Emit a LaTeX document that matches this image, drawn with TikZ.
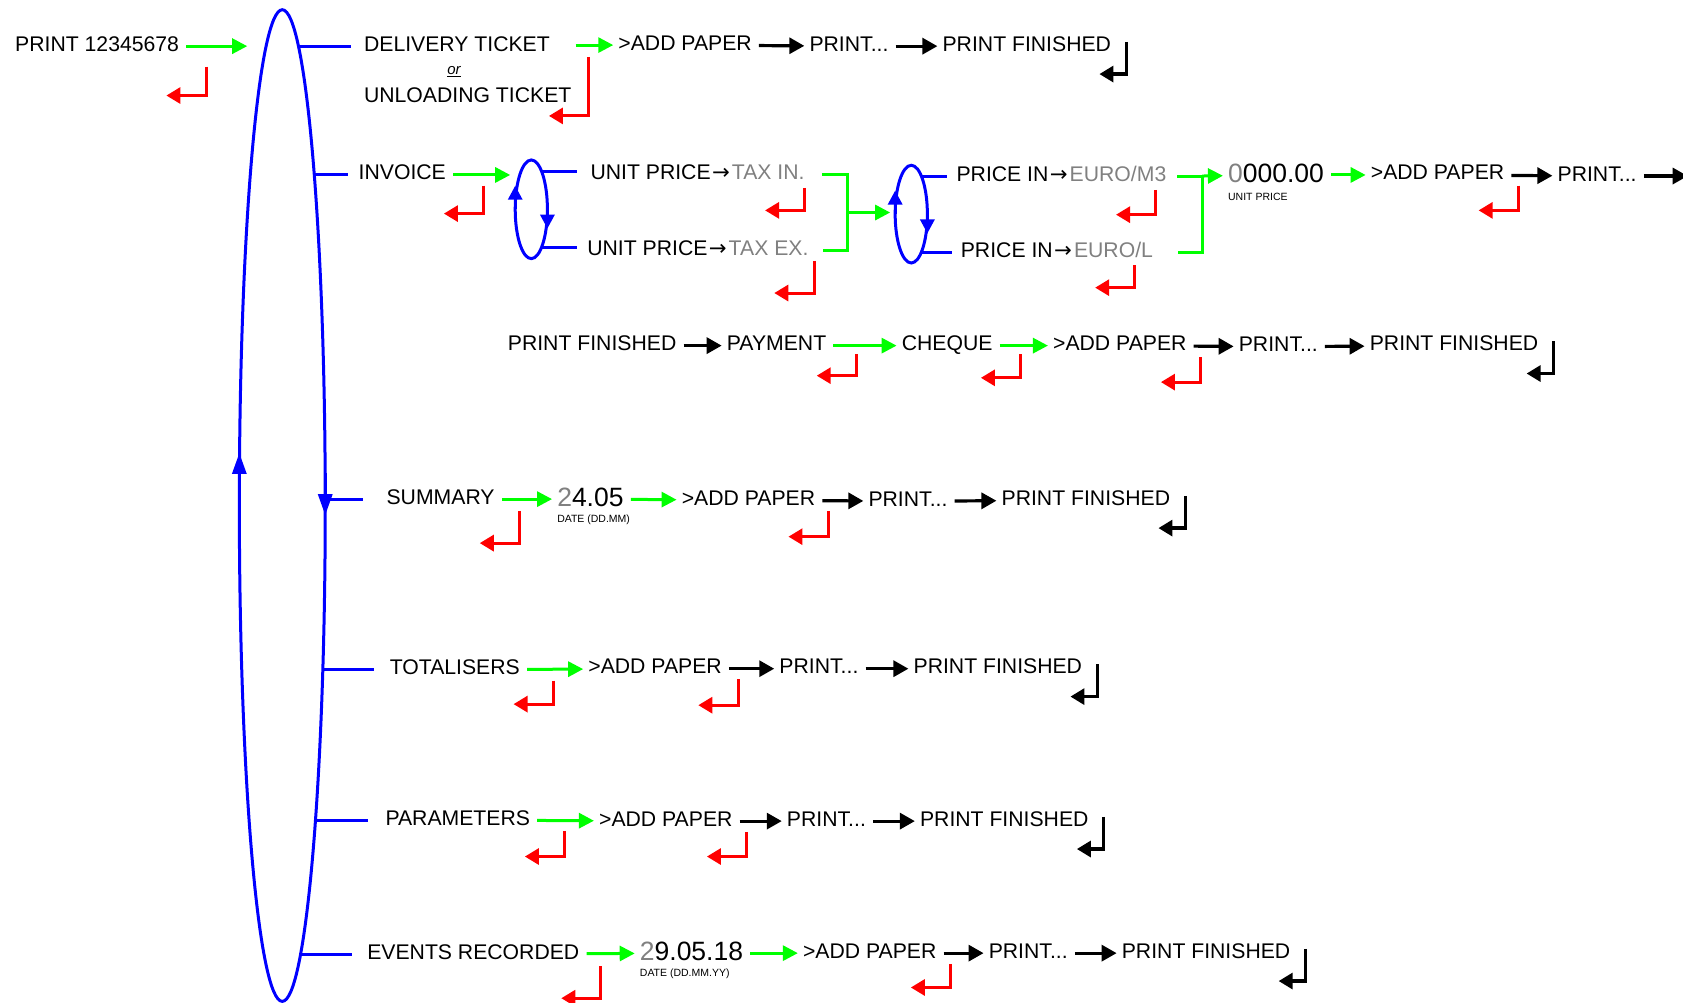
\documentclass[tikz,border=0pt]{standalone}
\usepackage{fontspec}
\setmainfont{Liberation Sans}
\newfontfamily\arrowfont{DejaVu Sans}
\usetikzlibrary{arrows.meta,calc,shapes.geometric}

\newcommand{\esc}[3]{\draw[escape] ($(#1)+(#2)$) |- ++(-37,#3);}
\newcommand{\done}[1]{\draw[finish] ($(#1.east)+(14,-4)$) |- ++(-25,30);}
\newcommand{\into}{\kern1.5pt{\arrowfont →}\kern2pt}

\begin{document}
\begin{tikzpicture}[x=1.0733pt, y=-1.0733pt,
    key/.style={anchor=west, inner sep=0pt, text height=14pt, text depth=4pt,
      font=\fontsize{21.2}{25}\selectfont},
    num/.style={anchor=west, inner sep=0pt, text height=19pt, text depth=4pt,
      font=\fontsize{26.5}{30}\selectfont},
    hint/.style={anchor=west, inner sep=0pt, font=\fontsize{10.5}{12}\selectfont},
    ring/.style={draw=blue, line width=3pt, outer sep=0pt},
    ringtip/.style={ring, -{Triangle[length=#1,width=14pt]}},
    confirm/.style={draw=green, line width=3pt, shorten <=7pt, shorten >=5pt,
      -{Triangle[length=15pt,width=15pt]}},
    gline/.style={draw=green, line width=3pt},
    proceed/.style={draw=black, line width=3.2pt, shorten <=7pt, shorten >=5pt,
      -{Triangle[length=15pt,width=16pt]}},
    escape/.style={draw=red, line width=3pt, -{Triangle[length=14pt,width=16pt]}},
    finish/.style={draw=black, line width=3.2pt, -{Triangle[length=14pt,width=16pt]}}
  ]
  \useasboundingbox (0,0) rectangle (1568,934);
  \clip (0,0) rectangle (1568,934);

  % main menu loop
  \node[ring, ellipse, minimum width=85.9pt, minimum height=991.6pt] (menu) at (263,471) {};
  \draw[ringtip=21pt] (menu.west) -- ++(0,-49);
  \draw[ringtip=21pt] ($(menu.east)+(0,-30)$) -- ($(menu.east)+(0,9)$);
  \coordinate (b1) at (278,43);
  \coordinate (b2) at (293,163);
  \coordinate (b3) at (303,465);
  \coordinate (b4) at (301,624);
  \coordinate (b5) at (294,764);
  \coordinate (b6) at (280,889);

  % row 1
  \node[key] (prt) at (14,43) {PRINT 12345678};
  \coordinate (menuin) at (235,43);
  \node[key] (dlv) at (339,43) {DELIVERY TICKET};
  \node[inner sep=0pt, font=\fontsize{15}{17}\selectfont\itshape] (ortxt) at (423,67) {\underline{or}};
  \node[key] (unl) at (339,91) {UNLOADING TICKET};
  \node[key] (add1) at (576,42) {>ADD PAPER};
  \node[key] (run1) at (754,43) {PRINT...};
  \node[key] (fin1) at (878,43) {PRINT FINISHED};
  \draw[confirm] (prt) -- (menuin);
  \draw[ring, shorten >=13pt] (b1) -- (dlv.west);
  \draw[confirm, shorten <=4pt] (unl.east |- add1.west) -- (add1.west);
  \draw[proceed] (add1) -- (run1);
  \draw[proceed] (run1) -- (fin1);
  \esc{prt.east}{25,19}{27}
  \esc{dlv.east}{36,10}{55}
  \done{fin1}

  % row 2
  \node[key] (inv) at (334,163) {INVOICE};
  \node[ring, ellipse, minimum width=32.2pt, minimum height=98.7pt] (sw1) at (495,195) {};
  \draw[ringtip=14pt] (sw1.west) -- ++(0,-22);
  \draw[ringtip=14pt] (sw1.east) -- ++(0,18);
  \node[key] (upin) at (550,163) {UNIT PRICE\into\textcolor{black!50}{TAX IN.}};
  \node[key] (upex) at (547,233) {UNIT PRICE\into\textcolor{black!50}{TAX EX.}};
  \coordinate (j1) at (790,198);
  \node[ring, ellipse, minimum width=32.2pt, minimum height=97.7pt] (sw2) at (849,199.5) {};
  \draw[ringtip=14pt] (sw2.west) -- ++(0,-22);
  \draw[ringtip=14pt] (sw2.east) -- ++(0,18);
  \node[key] (pm3) at (891,164) {PRICE IN\into\textcolor{black!50}{EURO/M3}};
  \node[key] (pl) at (895,235) {PRICE IN\into\textcolor{black!50}{EURO/L}};
  \coordinate (j2) at (1120,164);
  \node[num] (uprice) at (1144,163) {\textcolor{black!50}{0}000.00};
  \node[hint] (uplbl) at (1144,183) {UNIT PRICE};
  \node[key] (add2) at (1277,163) {>ADD PAPER};
  \node[key] (run2) at (1451,164) {PRINT...};
  \coordinate (more) at (1577,164);
  \draw[ring, shorten >=11pt] (b2) -- (inv.west);
  \draw[confirm] (inv) -- (inv -| sw1.west);
  \draw[ring, shorten >=13pt] (sw1.75) -- (sw1.75 -| upin.west);
  \draw[ring, shorten >=10pt] (sw1.-75) -- (sw1.-75 -| upex.west);
  \draw[gline] ($(upin.east)+(16,0)$) -| (j1) |- ($(upex.east)+(13,0)$);
  \draw[confirm, shorten <=0pt] (j1) -- (j1 -| sw2.west);
  \draw[ring, shorten >=9pt] (sw2.75) -- (sw2.75 -| pm3.west);
  \draw[ring, shorten >=9pt] (sw2.-75) -- (sw2.-75 -| pl.west);
  \draw[gline] ($(pm3.east)+(10,0)$) -- (j2) |- ($(pl.east)+(23,0)$);
  \draw[confirm, shorten <=0pt] (j2) -- (uprice);
  \draw[confirm] (uprice) -- (add2);
  \draw[proceed] (add2) -- (run2);
  \draw[proceed] (run2) -- (more);
  \esc{inv.east}{35,10}{26}
  \esc{upin.east}{0,12}{21}
  \esc{upex.east}{5,10}{30}
  \esc{pm3.east}{-10,13}{23}
  \esc{pl.east}{-17,12}{21}
  \esc{add2.east}{13,10}{23}

  % row 3
  \node[key] (fin2) at (473,322) {PRINT FINISHED};
  \node[key] (pay) at (677,322) {PAYMENT};
  \node[key] (chq) at (840,322) {CHEQUE};
  \node[key] (add3) at (981,322) {>ADD PAPER};
  \node[key] (run3) at (1154,323) {PRINT...};
  \node[key] (fin3) at (1276,322) {PRINT FINISHED};
  \draw[proceed] (fin2) -- (pay);
  \draw[confirm] (pay) -- (chq);
  \draw[confirm] (chq) -- (add3);
  \draw[proceed] (add3) -- (run3);
  \draw[proceed] (run3) -- (fin3);
  \esc{pay.east}{28,8}{20}
  \esc{chq.east}{26,8}{22}
  \esc{add3.east}{13,11}{23}
  \done{fin3}

  % row 4
  \node[key] (sum) at (360,465) {SUMMARY};
  \node[num] (date1) at (519,465) {\textcolor{black!50}{2}4.05};
  \node[hint] (d1lbl) at (519,484) {DATE (DD.MM)};
  \node[key] (add4) at (635,466) {>ADD PAPER};
  \node[key] (run4) at (809,467) {PRINT...};
  \node[key] (fin4) at (933,466) {PRINT FINISHED};
  \draw[ring, shorten >=23pt] (b3) -- (sum.west);
  \draw[confirm] (sum) -- (date1);
  \draw[confirm] (date1) -- (add4);
  \draw[proceed] (add4) -- (run4);
  \draw[proceed] (run4) -- (fin4);
  \esc{sum.east}{23,11}{30}
  \esc{add4.east}{12,10}{24}
  \done{fin4}

  % row 5
  \node[key] (tot) at (363,624) {TOTALISERS};
  \node[key] (add5) at (548,623) {>ADD PAPER};
  \node[key] (run5) at (726,623) {PRINT...};
  \node[key] (fin5) at (851,623) {PRINT FINISHED};
  \draw[ring, shorten >=16pt] (b4) -- (tot.west);
  \draw[confirm] (tot) -- (add5);
  \draw[proceed] (add5) -- (run5);
  \draw[proceed] (run5) -- (fin5);
  \esc{tot.east}{31,10}{22}
  \esc{add5.east}{15,10}{24}
  \done{fin5}

  % row 6
  \node[key] (par) at (359,764) {PARAMETERS};
  \node[key] (add6) at (558,765) {>ADD PAPER};
  \node[key] (run6) at (733,765) {PRINT...};
  \node[key] (fin6) at (857,765) {PRINT FINISHED};
  \draw[ring, shorten >=17pt] (b5) -- (par.west);
  \draw[confirm] (par) -- (add6);
  \draw[proceed] (add6) -- (run6);
  \draw[proceed] (run6) -- (fin6);
  \esc{par.east}{32,10}{24}
  \esc{add6.east}{13,10}{23}
  \done{fin6}

  % row 7
  \node[key] (evt) at (342,889) {EVENTS RECORDED};
  \node[num] (date2) at (596,888) {\textcolor{black!50}{2}9.05.18};
  \node[hint] (d2lbl) at (596,907) {DATE (DD.MM.YY)};
  \node[key] (add7) at (748,888) {>ADD PAPER};
  \node[key] (run7) at (921,888) {PRINT...};
  \node[key] (fin7) at (1045,888) {PRINT FINISHED};
  \draw[ring, shorten >=15pt] (b6) -- (evt.west);
  \draw[confirm] (evt) -- (date2);
  \draw[confirm] (date2) -- (add7);
  \draw[proceed] (add7) -- (run7);
  \draw[proceed] (run7) -- (fin7);
  \esc{evt.east}{20,11}{30}
  \esc{add7.east}{13,10}{22}
  \done{fin7}
\end{tikzpicture}
\end{document}
